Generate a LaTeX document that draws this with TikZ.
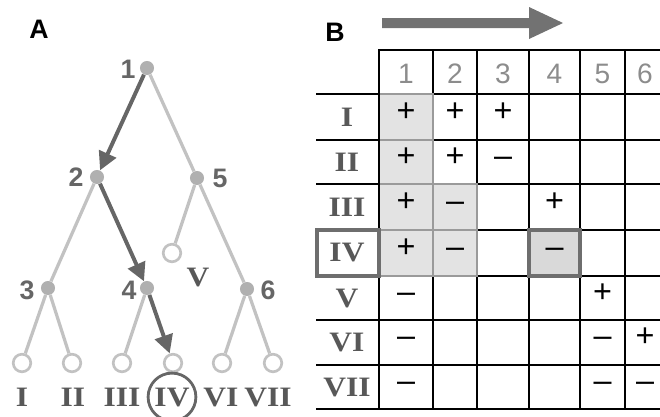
\documentclass[tikz,border=0pt]{standalone}
\usepackage{fontspec}
\setmainfont{Liberation Serif}[FakeStretch=1.12]
\setsansfont{Liberation Sans}
\usetikzlibrary{arrows.meta}
\definecolor{edgegray}{HTML}{C2C2C2}
\definecolor{nodegray}{HTML}{B0B0B0}
\definecolor{arrgray}{HTML}{666666}
\definecolor{digitgray}{HTML}{666666}
\definecolor{txtgray}{HTML}{585858}
\definecolor{hdrgray}{HTML}{8C8C8C}
\definecolor{cellgray}{HTML}{E3E3E3}
\definecolor{celledge}{HTML}{9A9A9A}
\definecolor{markgray}{HTML}{6E6E6E}
\definecolor{bigarrow}{HTML}{727272}
\tikzset{
  inode/.style={circle, fill=nodegray, inner sep=0pt, minimum size=10pt},
  leaf/.style={circle, draw=edgegray, line width=1.9pt, inner sep=0pt, minimum size=12.5pt},
  branch/.style={edgegray, line width=2.3pt},
  walk/.style={arrgray, line width=2.8pt, -{Triangle[length=13pt,width=13pt]}},
  tnum/.style={font=\sffamily\bfseries\fontsize{19}{19}\selectfont, text=digitgray, inner sep=0pt},
  rnum/.style={font=\bfseries\fontsize{20}{20}\selectfont, text=txtgray, inner sep=0pt},
  hnum/.style={font=\sffamily\fontsize{20}{20}\selectfont, text=hdrgray, inner sep=0pt},
  sgn/.style={font=\sffamily\fontsize{23}{23}\selectfont, inner sep=0pt, text height=0.69em, text depth=0pt},
  panel/.style={font=\sffamily\bfseries\fontsize{19}{19}\selectfont, inner sep=0pt},
  tline/.style={black, line width=0.8pt},
  tframe/.style={black, line width=1.6pt},
  shadecell/.style={fill=cellgray, draw=celledge, line width=1pt},
  markbox/.style={draw=markgray, line width=2.2pt},
}
\begin{document}
\begin{tikzpicture}[x=0.025cm, y=-0.025cm]
	\useasboundingbox (0,0) rectangle (660,416);
	\node[panel] (pa) at (39,29) {A};
	\node[panel] (pb) at (335,32) {B};
	% tree
	\node[inode] (n1) at (147,68) {};
	\node[inode] (n2) at (97,177) {};
	\node[inode] (n5) at (197,178) {};
	\node[inode] (n3) at (48,288) {};
	\node[inode] (n4) at (147,288) {};
	\node[inode] (n6) at (247,289) {};
	\node[leaf] (v) at (172,253) {};
	\node[leaf] (l1) at (22,363) {};
	\node[leaf] (l2) at (72,363) {};
	\node[leaf] (l3) at (122,363) {};
	\node[leaf] (l4) at (173,363) {};
	\node[leaf] (l6) at (222,363) {};
	\node[leaf] (l7) at (273,363) {};
	\draw[branch] (n1) -- (n5) -- (v);
	\draw[branch] (n5) -- (n6) -- (l6);
	\draw[branch] (n6) -- (l7);
	\draw[branch] (n2) -- (n3) -- (l1);
	\draw[branch] (n3) -- (l2);
	\draw[branch] (n4) -- (l3);
	\draw[walk] (n1) -- (n2);
	\draw[walk] (n2) -- (n4);
	\draw[walk] (n4) -- (l4);
	\node[tnum] (t1) at (128,69) {1};
	\node[tnum] (t2) at (76,177) {2};
	\node[tnum] (t5) at (220,178) {5};
	\node[tnum] (t3) at (27,290) {3};
	\node[tnum] (t4) at (129,290) {4};
	\node[tnum] (t6) at (268,290) {6};
	\node[rnum] (tv) at (198,278) {V};
	\node[rnum] (tl1) at (22,397) {I};
	\node[rnum] (tl2) at (73,397) {II};
	\node[rnum] (tl3) at (122,397) {III};
	\node[rnum, circle, draw=arrgray, line width=2pt, minimum size=34pt] (tl4) at (172,397) {IV};
	\node[rnum] (tl6) at (221,397) {VI};
	\node[rnum] (tl7) at (268,397) {VII};
	% table
	\fill[bigarrow] (382,18) -- (529,18) -- (529,7) -- (563,23) -- (529,39) -- (529,28) -- (382,28) -- cycle;
	\def\colxs{{406,455,503,554.5,602.5,645}}
	\def\rowys{{117,162,207,253,298,342,387}}
	\foreach \x in {433,477,529,580,625}
		\draw[tline] (\x,50) -- (\x,409);
	\foreach \y in {94,140,184,230,276,320,365}
		\draw[tline] (316,\y) -- (660,\y);
	\foreach \x/\ya/\yb in {379/94/140, 379/140/184, 379/184/230, 379/230/276, 433/184/230, 433/230/276}{
		\pgfmathsetmacro\xb{\x==379 ? 433 : 477}
		\draw[shadecell] (\x,\ya) rectangle (\xb,\yb);
	}
	\draw[tframe] (660,50) -- (379,50) -- (379,409);
	\draw[tframe] (316,409) -- (660,409);
	\draw[markbox, fill=cellgray!90!gray] (529,230) rectangle (580,276);
	\draw[markbox] (317,230) rectangle (379,276);
	\foreach \c in {1,...,6}{
		\pgfmathsetmacro\cx{\colxs[\c-1]}
		\node[hnum] (h\c) at (\cx,74) {\c};
	}
	\foreach \r [count=\i] in {I,II,III,IV,V,VI,VII}{
		\pgfmathsetmacro\ry{\rowys[\i-1]}
		\node[rnum] (r\i) at (347,\ry) {\r};
	}
	\foreach \i/\c/\s in {1/1/+,1/2/+,1/3/+,2/1/+,2/2/+,2/3/–,3/1/+,3/2/–,3/4/+,4/1/+,4/2/–,4/4/–,5/1/–,5/5/+,6/1/–,6/5/–,6/6/+,7/1/–,7/5/–,7/6/–}{
		\pgfmathsetmacro\cx{\colxs[\c-1]}
		\pgfmathsetmacro\ry{\rowys[\i-1]}
		\node[sgn] (s\i\c) at (\cx,\ry) {\s};
	}
\end{tikzpicture}
\end{document}
